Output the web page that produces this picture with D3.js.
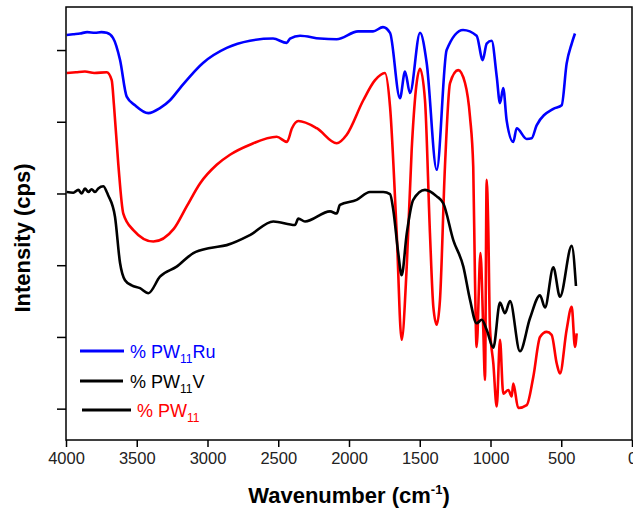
<!DOCTYPE html>
<html>
<head>
<meta charset="utf-8">
<script src="https://cdn.jsdelivr.net/npm/d3@7"></script>
<style>
  body { margin: 0; background: #fff; }
  svg { display: block; font-family: "Liberation Sans", Arial, sans-serif; }
</style>
</head>
<body>
<svg id="chart" width="633" height="510"></svg>
<script>
/* FT-IR spectra: [wavenumber cm-1, intensity (a.u.)] */
const pw11Ru = [
  [3995,5.21],[3950,5.22],[3901,5.23],[3850,5.25],[3795,5.24],[3750,5.25],[3712,5.24],
  [3668,5.17],[3618,4.86],[3571,4.35],[3512,4.23],[3418,4.12],[3336,4.19],[3265,4.30],
  [3194,4.47],[3032,4.82],[2864,5.03],[2700,5.13],[2537,5.16],[2440,5.10],[2417,5.16],
  [2346,5.20],[2205,5.16],[2087,5.15],[1936,5.26],[1830,5.26],[1760,5.32],[1710,5.24],
  [1640,4.33],[1604,4.70],[1569,4.40],[1498,5.24],[1451,4.82],[1380,3.33],[1310,5.00],
  [1194,5.28],[1098,5.20],[1055,4.86],[1027,5.09],[992,5.13],[956,4.63],[933,4.26],
  [910,4.47],[886,4.02],[839,3.72],[815,3.91],[744,3.76],[709,3.77],[674,3.95],
  [556,4.18],[497,4.23],[462,4.81],[426,5.09],[403,5.23]
];

const pw11V = [
  [3995,3.02],[3948,3.01],[3913,3.05],[3889,3.00],[3866,3.07],[3842,3.02],[3819,3.06],
  [3795,3.02],[3772,3.07],[3736,3.10],[3712,3.02],[3703,2.98],[3654,2.68],[3618,2.03],
  [3583,1.79],[3536,1.72],[3477,1.68],[3418,1.61],[3336,1.84],[3218,1.98],[3100,2.17],
  [2982,2.24],[2864,2.28],[2700,2.42],[2535,2.61],[2382,2.56],[2358,2.65],[2311,2.61],
  [2134,2.75],[2087,2.72],[2064,2.84],[1946,2.91],[1852,3.02],[1758,3.02],[1710,2.99],
  [1687,2.77],[1652,2.17],[1628,1.86],[1592,2.44],[1546,2.91],[1463,3.05],[1380,2.96],
  [1333,2.86],[1263,2.35],[1192,1.98],[1145,1.52],[1098,1.19],[1062,1.24],[1027,1.10],
  [980,0.85],[933,1.48],[898,1.33],[862,1.50],[792,0.80],[721,1.26],[650,1.58],
  [615,1.41],[556,1.97],[509,1.56],[426,2.27],[396,1.71]
];

const pw11 = [
  [3995,4.68],[3930,4.69],[3866,4.70],[3800,4.68],[3712,4.69],[3677,4.58],[3661,4.23],
  [3630,3.40],[3595,2.72],[3524,2.49],[3383,2.33],[3237,2.51],[3147,2.82],[3053,3.14],
  [2935,3.40],[2841,3.54],[2700,3.68],[2511,3.79],[2438,3.72],[2403,3.91],[2358,4.01],
  [2228,3.91],[2087,3.70],[2016,3.82],[1899,4.30],[1816,4.58],[1746,4.68],[1710,4.21],
  [1663,2.45],[1628,0.96],[1592,1.98],[1557,3.61],[1498,4.74],[1463,4.30],[1428,2.45],
  [1404,1.42],[1380,1.17],[1357,1.52],[1322,3.37],[1286,4.54],[1228,4.72],[1180,4.54],
  [1145,4.07],[1122,3.37],[1110,1.84],[1098,0.86],[1071,2.17],[1051,1.10],[1039,0.40],
  [1027,3.19],[1016,2.54],[1004,1.14],[980,0.63],[956,0.03],[933,0.96],[910,0.21],
  [874,0.26],[850,0.17],[839,0.35],[804,0.01],[744,0.05],[697,0.45],[650,1.00],
  [603,1.07],[568,1.03],[532,0.63],[509,0.49],[462,1.10],[426,1.42],[403,0.86],[391,1.05]
];

const xTicks = [4000, 3500, 3000, 2500, 2000, 1500, 1000, 500, 0];
const yTicks = [0, 1, 2, 3, 4, 5];

const seriesList = [
  { name: 'PW11Ru', data: pw11Ru, color: '#0000ff' },
  { name: 'PW11', data: pw11, color: '#ff0000' },
  { name: 'PW11V', data: pw11V, color: '#000000' },
];

// legend rows: line colour, text colour, text pieces (main, subscript, tail)
const legendRows = [
  { line: '#0000ff', text: '#0000ff', parts: ['% PW', '11', 'Ru'] },
  { line: '#000000', text: '#000000', parts: ['% PW', '11', 'V'] },
  { line: '#000000', text: '#ff0000', parts: ['% PW', '11', ''] },
];

const svg = d3.select('#chart');
const margin = { left: 66, right: 1, top: 7, bottom: 70 };
const W = 633, H = 510;

const x = d3.scaleLinear().domain([4000, 0]).range([margin.left, W - margin.right]);
const y = d3.scaleLinear().domain([-0.437, 5.6]).range([H - margin.bottom, margin.top]);

// spectra
const line = d3.line()
  .x(d => x(d[0]))
  .y(d => y(d[1]))
  .curve(d3.curveMonotoneX);

svg.append('g')
  .selectAll('path')
  .data(seriesList)
  .join('path')
  .attr('d', d => line(d.data))
  .attr('fill', 'none')
  .attr('stroke', d => d.color)
  .attr('stroke-width', 2.6)
  .attr('stroke-linejoin', 'round');

// frame
svg.append('rect')
  .attr('x', x(4000)).attr('y', y(5.6))
  .attr('width', x(0) - x(4000)).attr('height', y(-0.437) - y(5.6))
  .attr('fill', 'none').attr('stroke', '#000').attr('stroke-width', 1.5);

// axes
const xAxis = svg.append('g')
  .attr('transform', `translate(0,${y(-0.437)})`)
  .call(d3.axisBottom(x).tickValues(xTicks).tickSize(7).tickPadding(5).tickFormat(d3.format('d')));
xAxis.select('.domain').remove();
xAxis.selectAll('line').attr('stroke-width', 1.5);
xAxis.selectAll('text').attr('font-size', 16.5).attr('fill', '#222')
  .attr('font-family', '"Liberation Sans", Arial, sans-serif');

const yAxis = svg.append('g')
  .attr('transform', `translate(${x(4000)},0)`)
  .call(d3.axisLeft(y).tickValues(yTicks).tickSize(9).tickFormat(''));
yAxis.select('.domain').remove();
yAxis.selectAll('line').attr('stroke-width', 1.5);

// axis titles
const xt = svg.append('text')
  .attr('x', 349).attr('y', 503)
  .attr('text-anchor', 'middle')
  .attr('font-size', 22).attr('font-weight', 'bold')
  .text('Wavenumber (cm');
xt.append('tspan').attr('font-size', 13).attr('dy', -9).text('-1');
xt.append('tspan').attr('dy', 9).text(')');

svg.append('text')
  .attr('transform', 'translate(30,238) rotate(-90)')
  .attr('text-anchor', 'middle')
  .attr('font-size', 22).attr('font-weight', 'bold')
  .text('Intensity (cps)');

// legend
const legendY = [351, 381, 410];
const legendLine = [[80, 124], [80, 123], [82, 131]];
const legendTextX = [130, 130, 137];
const lg = svg.append('g');
legendRows.forEach((r, i) => {
  lg.append('line')
    .attr('x1', legendLine[i][0]).attr('x2', legendLine[i][1])
    .attr('y1', legendY[i]).attr('y2', legendY[i])
    .attr('stroke', r.line).attr('stroke-width', 2.8);
  const t = lg.append('text')
    .attr('x', legendTextX[i]).attr('y', legendY[i] + 7)
    .attr('font-size', 18).attr('fill', r.text)
    .text(r.parts[0]);
  t.append('tspan').attr('font-size', 12).attr('dy', 5).text(r.parts[1]);
  if (r.parts[2]) t.append('tspan').attr('dy', -5).text(r.parts[2]);
});
</script>
</body>
</html>
